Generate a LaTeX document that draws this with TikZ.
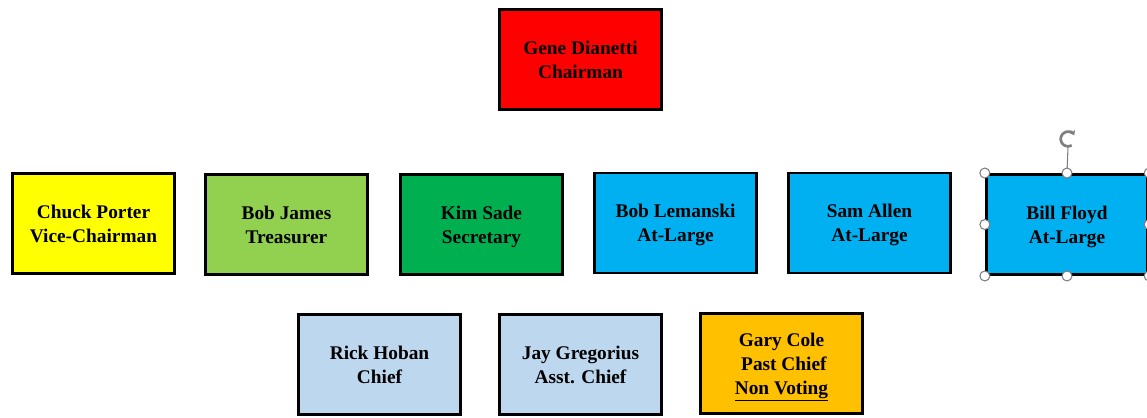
\documentclass[tikz,border=0pt]{standalone}
\usepackage{fontspec}
\setmainfont{Liberation Serif}
\usetikzlibrary{arrows.meta}
\definecolor{cRed}{HTML}{FF0000}
\definecolor{cYellow}{HTML}{FFFF00}
\definecolor{cLGreen}{HTML}{92D050}
\definecolor{cGreen}{HTML}{00B050}
\definecolor{cBlue}{HTML}{00B0F0}
\definecolor{cLBlue}{HTML}{BDD7EE}
\definecolor{cOrange}{HTML}{FFC000}
\definecolor{handlegray}{HTML}{7F7F7F}
\tikzset{
  member/.style={draw=black, line width=2.2pt, minimum width=121pt, minimum height=75pt,
    inner sep=0pt, align=center, font=\bfseries\fontsize{14.5}{18}\selectfont},
  lowtext/.style={text depth=0pt},
  handle/.style={circle, draw=handlegray, fill=white, line width=0.8pt, minimum size=7.5pt, inner sep=0pt}
}
\begin{document}
\begin{tikzpicture}[x=0.75pt,y=-0.75pt]
\useasboundingbox (0,0) rectangle (1147,418);
\node[member, fill=cRed] (gene) at (580.5,59.5) {Gene Dianetti\\Chairman};
\node[member, fill=cYellow] (chuck) at (93.5,223.5) {Chuck Porter\\Vice-Chairman};
\node[member, fill=cLGreen] (bobj) at (286.5,224.5) {Bob James\\Treasurer};
\node[member, lowtext, fill=cGreen] (kim) at (481.5,224.5) {Kim Sade\\Secretary};
\node[member, lowtext, fill=cBlue] (bobl) at (675.5,223) {Bob Lemanski\\At-Large};
\node[member, lowtext, fill=cBlue] (sam) at (869.5,223) {Sam Allen\\At-Large};
\node[member, lowtext, fill=cBlue] (bill) at (1067,224.5) {Bill Floyd\\At-Large};
\node[member, fill=cLBlue] (rick) at (379.5,364.5) {Rick Hoban\\Chief};
\node[member, fill=cLBlue] (jay) at (580.5,364.5) {Jay Gregorius\\Asst. Chief};
\node[member, lowtext, fill=cOrange] (gary) at (781.5,363.5) {Gary Cole\\\ Past Chief\\\underline{Non Voting}};
% selection handles
\coordinate (rot) at (1068,139);
\draw[handlegray, line width=0.8pt] (bill.north) -- (1068,147);
\node[handle] (h1) at (bill.north west) {};
\node[handle] (h2) at (bill.north) {};
\node[handle] (h3) at (bill.north east) {};
\node[handle] (h4) at (bill.west) {};
\node[handle] (h5) at (bill.east) {};
\node[handle] (h6) at (bill.south west) {};
\node[handle] (h7) at (bill.south) {};
\node[handle] (h8) at (bill.south east) {};
\draw[handlegray, line width=2pt, -{Stealth[length=3.5pt,width=5pt]}] ([shift={(-60:5.5pt)}]rot) arc[start angle=-60, end angle=-330, radius=5.5pt];
\end{tikzpicture}
\end{document}
